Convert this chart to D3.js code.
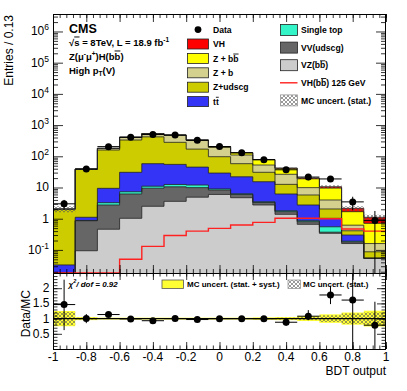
<!DOCTYPE html>
<html>
<head>
<meta charset="utf-8">
<script src="https://cdn.jsdelivr.net/npm/d3@7"></script>
<style>
  body { margin: 0; background: #fff; }
  svg { display: block; font-family: "Liberation Sans", Arial, Helvetica, sans-serif; }
</style>
</head>
<body>
<svg id="chart" width="407" height="391"></svg>
<script>
// bin edges of the BDT output (15 bins)
const binEdges = [-1, -0.8667, -0.7333, -0.6, -0.4667, -0.3333, -0.2, -0.0667, 0.0667, 0.2, 0.3333, 0.4667, 0.6, 0.7333, 0.8667, 1];

// stacked MC backgrounds, bottom to top
const vzbb      = [0.003, 0.094, 0.46, 1.03, 2.5, 3.6, 4.9, 6.0, 4.7, 2.75, 1.38, 0.66, 0.34, 0.16, 0.054];
const vvudscg   = [0.008, 0.766, 2.29, 5.17, 7.0, 6.9, 5.0, 2.3, 1.3, 0.55, 0.30, 0.14, 0.03, 0.02, 0.0];
const singleTop = [0.002, 0.02, 0.51, 1.1, 1.5, 2.0, 2.1, 0.7, 0.3, 0.2, 0.12, 0.06, 0.18, 0.01, 0.0];
const ttbar     = [0.02, 0.23, 6.14, 23.4, 47, 42.5, 33, 20, 15.7, 11.8, 4.4, 1.89, 0.48, 0.11, 0.0];
const zudscg    = [1.95, 37.2, 149.6, 302, 362, 225, 125, 68, 36, 15.4, 6.4, 3.0, 1.02, 0.11, 0.033];
const zb        = [0.05, 0.5, 20, 72, 105, 185, 150, 95, 52, 21.8, 13.9, 4.15, 1.93, 0.21, 0.073];
const zbb       = [0.02, 0.2, 1.0, 5, 10, 15, 15, 13, 19.5, 25, 14.5, 9.1, 5.6, 1.06, 0.55];
const vh        = [0, 0, 0, 0.05, 0.13, 0.29, 0.40, 0.49, 0.63, 0.76, 1.03, 1.03, 1.0, 0.47, 0.40];

// observed data
const dataVals = [3, 39, 204, 406, 498, 480, 325, 205, 130, 78, 37, 21.6, 18.8, 3.46, 0.87];
const dataErr  = [1.0, 6, 14, 20, 22, 22, 18, 14, 11, 9, 6, 4.5, 3.2, 1.6, 0.9];
const ratioErrUp   = [0.82, 0.15, 0.06, 0.04, 0.04, 0.04, 0.04, 0.05, 0.06, 0.08, 0.12, 0.2, 0.3, 1.6, 0.77];
const ratioErrDown = [0.84, 0.15, 0.06, 0.04, 0.04, 0.04, 0.04, 0.05, 0.06, 0.08, 0.12, 0.13, 0.3, 1.61, 0.78];

// relative MC uncertainties
const mcStat     = [0.22, 0.03, 0.015, 0.01, 0.01, 0.01, 0.01, 0.01, 0.015, 0.02, 0.03, 0.05, 0.11, 0.17, 0.2];
const mcStatSyst = [0.25, 0.05, 0.03, 0.03, 0.03, 0.03, 0.03, 0.03, 0.03, 0.04, 0.05, 0.08, 0.14, 0.2, 0.26];

// tick labels
const xTickLabels = ["-1", "-0.8", "-0.6", "-0.4", "-0.2", "0", "0.2", "0.4", "0.6", "0.8", "1"];
const yDecades = [-1, 0, 1, 2, 3, 4, 5, 6];
const ratioTickLabels = ["0.5", "1", "1.5", "2"];

const keys = ["vzbb", "vvudscg", "singleTop", "ttbar", "zudscg", "zb", "zbb", "vh"];
const colors = {
  vzbb: "#cccccc", vvudscg: "#666666", singleTop: "#33f5c8", ttbar: "#3434f6",
  zudscg: "#cccc00", zb: "#d4d08e", zbb: "#ffff00", vh: "#ff0000"
};

const svg = d3.select("#chart");
const pLeft = 53, pRight = 386, pTop = 14, pMid = 273, pBottom = 349;

const x = d3.scaleLinear().domain([-1, 1]).range([pLeft, pRight]);
const y = d3.scaleLog().domain([0.0182, 3.63e6]).range([pMid, pTop]).clamp(true);
const ry = d3.scaleLinear().domain([0, 2.5]).range([pBottom, pMid]).clamp(true);
const yv = v => y(Math.max(v, 1e-4));

// defs
const defs = svg.append("defs");
defs.append("clipPath").attr("id", "clipMain")
  .append("rect").attr("x", pLeft).attr("y", pTop).attr("width", pRight - pLeft).attr("height", pMid - pTop);
defs.append("clipPath").attr("id", "clipRatio")
  .append("rect").attr("x", pLeft).attr("y", pMid).attr("width", pRight - pLeft).attr("height", pBottom - pMid);
const hatch = defs.append("pattern").attr("id", "hatch")
  .attr("width", 4).attr("height", 4).attr("patternUnits", "userSpaceOnUse");
hatch.append("path").attr("d", "M0,4 L4,0 M-1,1 L1,-1 M3,5 L5,3").attr("stroke", "#555").attr("stroke-width", 0.6);
hatch.append("path").attr("d", "M0,0 L4,4 M-1,3 L1,5 M3,-1 L5,1").attr("stroke", "#555").attr("stroke-width", 0.6);

// table for the stack
const rows = binEdges.slice(0, -1).map((lo, i) => {
  const r = {lo: lo, hi: binEdges[i + 1]};
  r.vzbb = vzbb[i]; r.vvudscg = vvudscg[i]; r.singleTop = singleTop[i]; r.ttbar = ttbar[i];
  r.zudscg = zudscg[i]; r.zb = zb[i]; r.zbb = zbb[i]; r.vh = vh[i];
  return r;
});
const stacked = d3.stack().keys(keys)(rows);
const totals = stacked[stacked.length - 1].map(d => d[1]);

const steps = vals => vals.flatMap((v, i) => [[binEdges[i], v], [binEdges[i + 1], v]]);
const stepArea = d3.area().x(d => x(d[0])).y0(pMid).y1(d => yv(d[1]));
const stepLine = d3.line().x(d => x(d[0])).y(d => yv(d[1]));

// main plot
const main = svg.append("g").attr("clip-path", "url(#clipMain)");

stacked.slice().reverse().forEach(layer => {
  main.append("path")
      .attr("d", stepArea(steps(layer.map(d => d[1]))))
      .attr("fill", colors[layer.key]);
});
stacked.forEach(layer => {
  main.append("path")
      .attr("d", stepLine(steps(layer.map(d => d[1]))))
      .attr("fill", "none")
      .attr("stroke", "#222")
      .attr("stroke-width", 0.8);
});

// MC stat band
const bandPts = totals.flatMap((t, i) => [[binEdges[i], t, mcStat[i]], [binEdges[i + 1], t, mcStat[i]]]);
main.append("path")
    .attr("d", d3.area().x(d => x(d[0])).y0(d => yv(d[1] * (1 - d[2]))).y1(d => yv(d[1] * (1 + d[2])))(bandPts))
    .attr("fill", "url(#hatch)");

// signal line
main.append("path")
    .attr("d", stepLine(steps(vh)))
    .attr("fill", "none")
    .attr("stroke", "#ff2020")
    .attr("stroke-width", 1.4);

// data points
const pts = main.append("g");
rows.forEach((r, i) => {
  const cx = x((r.lo + r.hi) / 2), cy = yv(dataVals[i]);
  pts.append("line").attr("x1", x(r.lo)).attr("x2", x(r.hi)).attr("y1", cy).attr("y2", cy)
     .attr("stroke", "#000").attr("stroke-width", 1);
  pts.append("line").attr("x1", cx).attr("x2", cx)
     .attr("y1", yv(dataVals[i] - dataErr[i])).attr("y2", yv(dataVals[i] + dataErr[i]))
     .attr("stroke", "#000").attr("stroke-width", 1);
  pts.append("circle").attr("cx", cx).attr("cy", cy).attr("r", 3.5).attr("fill", "#000");
});

// ratio panel
const ratio = svg.append("g").attr("clip-path", "url(#clipRatio)");
rows.forEach((r, i) => {
  ratio.append("rect").attr("x", x(r.lo)).attr("width", x(r.hi) - x(r.lo))
       .attr("y", ry(1 + mcStatSyst[i])).attr("height", ry(1 - mcStatSyst[i]) - ry(1 + mcStatSyst[i]))
       .attr("fill", "#ffff33");
});
rows.forEach((r, i) => {
  ratio.append("rect").attr("x", x(r.lo)).attr("width", x(r.hi) - x(r.lo))
       .attr("y", ry(1 + mcStat[i])).attr("height", ry(1 - mcStat[i]) - ry(1 + mcStat[i]))
       .attr("fill", "url(#hatch)");
});
ratio.append("line").attr("x1", pLeft).attr("x2", pRight).attr("y1", ry(1)).attr("y2", ry(1))
     .attr("stroke", "#000").attr("stroke-width", 1.2);
rows.forEach((r, i) => {
  const rv = dataVals[i] / totals[i];
  const cx = x((r.lo + r.hi) / 2), cy = ry(rv);
  ratio.append("line").attr("x1", x(r.lo)).attr("x2", x(r.hi)).attr("y1", cy).attr("y2", cy)
       .attr("stroke", "#000").attr("stroke-width", 1);
  ratio.append("line").attr("x1", cx).attr("x2", cx)
       .attr("y1", ry(rv - ratioErrDown[i])).attr("y2", ry(rv + ratioErrUp[i]))
       .attr("stroke", "#000").attr("stroke-width", 1);
  ratio.append("circle").attr("cx", cx).attr("cy", cy).attr("r", 3.5).attr("fill", "#000");
});

// axes (ticks inside, all four sides)
const xMajor = d3.range(0, 11).map(i => -1 + i * 0.2);
const xMinor = d3.range(0, 51).map(i => -1 + i * 0.04);
const yMajor = yDecades.map(d => Math.pow(10, d));
const yMinor = d3.range(-2, 7).flatMap(d => d3.range(2, 10).map(m => m * Math.pow(10, d)))
                 .filter(v => v > 0.0182 && v < 3.63e6);
const rMajor = [0, 0.5, 1, 1.5, 2, 2.5];
const rMinor = d3.range(0, 26).map(i => i * 0.1);

const addAxis = (axis, tr) => {
  const g = svg.append("g").attr("transform", tr).call(axis);
  g.select(".domain").remove();
  g.selectAll("text").remove();
  g.selectAll("line").attr("stroke", "#000").attr("stroke-width", 0.8);
};
[[d3.axisTop, pTop], [d3.axisBottom, pMid], [d3.axisTop, pMid], [d3.axisBottom, pBottom]].forEach(([ax, yy], k) => {
  const isRatio = k >= 2;
  addAxis(ax(x).tickValues(xMajor).tickSize(isRatio ? -7 : -8).tickFormat(""), `translate(0,${yy})`);
  addAxis(ax(x).tickValues(xMinor).tickSize(isRatio ? -3.5 : -4).tickFormat(""), `translate(0,${yy})`);
});
[[d3.axisRight, pLeft], [d3.axisLeft, pRight]].forEach(([ax, xx]) => {
  addAxis(ax(y).tickValues(yMajor).tickSize(10).tickFormat(""), `translate(${xx},0)`);
  addAxis(ax(y).tickValues(yMinor).tickSize(5).tickFormat(""), `translate(${xx},0)`);
  addAxis(ax(ry).tickValues(rMajor).tickSize(9).tickFormat(""), `translate(${xx},0)`);
  addAxis(ax(ry).tickValues(rMinor).tickSize(4.5).tickFormat(""), `translate(${xx},0)`);
});

// frames
svg.append("rect").attr("x", pLeft + 0.5).attr("y", pTop + 0.5).attr("width", pRight - pLeft - 1).attr("height", pMid - pTop)
   .attr("fill", "none").attr("stroke", "#000").attr("stroke-width", 1);
svg.append("rect").attr("x", pLeft + 0.5).attr("y", pMid + 0.5).attr("width", pRight - pLeft - 1).attr("height", pBottom - pMid)
   .attr("fill", "none").attr("stroke", "#000").attr("stroke-width", 1);

// tick labels
const labels = svg.append("g").attr("font-size", 12).attr("fill", "#000");
xMajor.forEach((v, i) => {
  labels.append("text").attr("x", x(v)).attr("y", 360.5).attr("text-anchor", "middle").text(xTickLabels[i]);
});
yDecades.forEach(d => {
  const t = labels.append("text").attr("x", 49).attr("y", y(Math.pow(10, d)) + 4).attr("text-anchor", "end");
  if (d === 0) t.text("1");
  else if (d === 1) t.text("10");
  else {
    t.append("tspan").text("10");
    t.append("tspan").attr("dy", -5).attr("font-size", 8.5).text(d);
  }
});
ratioTickLabels.forEach(s => {
  labels.append("text").attr("x", 49.5).attr("y", ry(+s) + 4).attr("text-anchor", "end").text(s);
});

// axis titles
labels.append("text").attr("transform", "translate(12.5,15) rotate(-90)").attr("text-anchor", "end").text("Entries / 0.13");
labels.append("text").attr("transform", "translate(30,290) rotate(-90)").attr("text-anchor", "end").text("Data/MC");
labels.append("text").attr("x", pRight).attr("y", 374.5).attr("text-anchor", "end").text("BDT output");

// CMS block
const info = svg.append("g").attr("font-weight", "bold").attr("fill", "#000");
info.append("text").attr("x", 69).attr("y", 33).attr("font-size", 12.5).text("CMS");
const l1 = info.append("text").attr("x", 69).attr("y", 45.5).attr("font-size", 9.5);
l1.append("tspan").text("√");
l1.append("tspan").style("text-decoration", "overline").text("s");
l1.append("tspan").text(" =  8TeV, L = 18.9 fb");
l1.append("tspan").attr("dy", -4).attr("font-size", 6.5).text("-1");
const l2 = info.append("text").attr("x", 69).attr("y", 59.5).attr("font-size", 9.5);
l2.append("tspan").text("Z(μ");
l2.append("tspan").attr("dy", -4).attr("font-size", 6.5).text("-");
l2.append("tspan").attr("dy", 4).text("μ");
l2.append("tspan").attr("dy", -4).attr("font-size", 6.5).text("+");
l2.append("tspan").attr("dy", 4).text(")H(b");
l2.append("tspan").style("text-decoration", "overline").text("b");
l2.append("tspan").text(")");
const l3 = info.append("text").attr("x", 69).attr("y", 73.5).attr("font-size", 9.5);
l3.append("tspan").text("High p");
l3.append("tspan").attr("dy", 2.5).attr("font-size", 6.5).text("T");
l3.append("tspan").attr("dy", -2.5).text("(V)");

// legend
const leg = svg.append("g").attr("font-weight", "bold").attr("font-size", 8.6).attr("fill", "#000");
const col1 = [
  {type: "data", label: ["Data"]},
  {key: "vh", label: ["VH"]},
  {key: "zbb", label: ["Z + b", "b"]},
  {key: "zb", label: ["Z + b"]},
  {key: "zudscg", label: ["Z+udscg"]},
  {key: "ttbar", label: ["t", "t"]}
];
col1.forEach((e, i) => {
  const cy = 29.6 + i * 14.4;
  if (e.type === "data") {
    leg.append("circle").attr("cx", 198).attr("cy", cy).attr("r", 3.4).attr("fill", "#000");
  } else {
    leg.append("rect").attr("x", 187.5).attr("y", cy - 5).attr("width", 21).attr("height", 10)
       .attr("fill", colors[e.key]).attr("stroke", "#222").attr("stroke-width", 0.8);
  }
  const t = leg.append("text").attr("x", 213).attr("y", cy + 3.2);
  t.append("tspan").text(e.label[0]);
  if (e.label[1]) t.append("tspan").style("text-decoration", "overline").text(e.label[1]);
});
const col2 = [
  {key: "singleTop", label: ["Single top"]},
  {key: "vvudscg", label: ["VV(udscg)"]},
  {key: "vzbb", label: ["VZ(b", "b", ")"]},
  {type: "line", label: ["VH(b", "b", ") 125 GeV"]},
  {type: "hatch", label: ["MC uncert. (stat.)"]}
];
col2.forEach((e, i) => {
  const cy = 30 + i * 17.6;
  if (e.type === "line") {
    leg.append("line").attr("x1", 280).attr("x2", 297.5).attr("y1", cy).attr("y2", cy)
       .attr("stroke", "#ff2020").attr("stroke-width", 1.4);
  } else {
    leg.append("rect").attr("x", 280.5).attr("y", cy - 5.5).attr("width", 17).attr("height", 11)
       .attr("fill", e.type === "hatch" ? "url(#hatch)" : colors[e.key])
       .attr("stroke", e.type === "hatch" ? "#999" : "#222").attr("stroke-width", 0.8);
  }
  const t = leg.append("text").attr("x", 301).attr("y", cy + 3.2);
  t.append("tspan").text(e.label[0]);
  if (e.label[1]) t.append("tspan").style("text-decoration", "overline").text(e.label[1]);
  if (e.label[2]) t.append("tspan").text(e.label[2]);
});

// ratio panel texts
const rt = svg.append("g").attr("font-weight", "bold").attr("font-size", 8).attr("fill", "#000");
const chi = rt.append("text").attr("x", 68.5).attr("y", 286.5).attr("font-style", "italic");
chi.append("tspan").text("χ");
chi.append("tspan").attr("dy", -3.5).attr("font-size", 5.5).text("2");
chi.append("tspan").attr("dy", 3.5).text("/ dof = 0.92");
rt.append("rect").attr("x", 162).attr("y", 280).attr("width", 21.5).attr("height", 8.5)
  .attr("fill", "#ffff33").attr("stroke", "#555").attr("stroke-width", 0.8);
rt.append("text").attr("x", 187).attr("y", 287).text("MC uncert. (stat. + syst.)");
rt.append("rect").attr("x", 288).attr("y", 280).attr("width", 12.5).attr("height", 8.5)
  .attr("fill", "url(#hatch)").attr("stroke", "#999").attr("stroke-width", 0.8);
rt.append("text").attr("x", 303).attr("y", 287).text("MC uncert. (stat.)");
</script>
</body>
</html>
